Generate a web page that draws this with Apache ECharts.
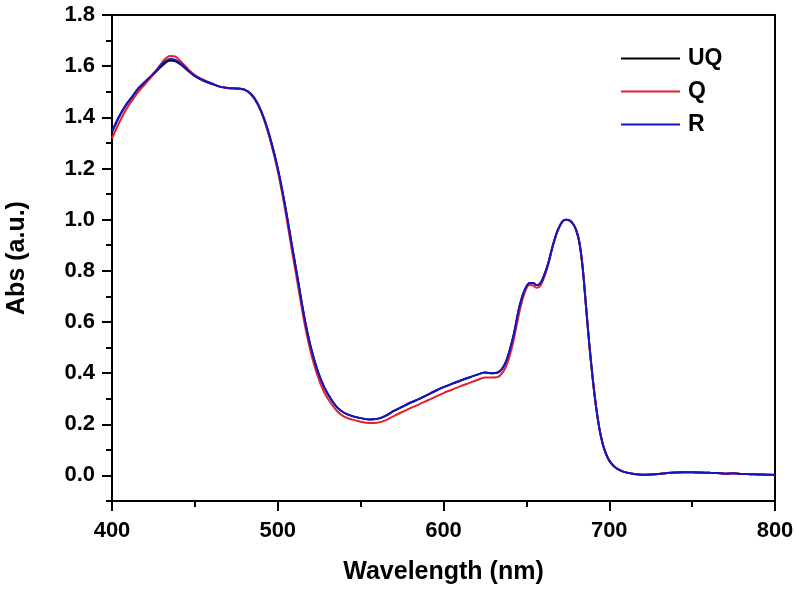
<!DOCTYPE html>
<html>
<head>
<meta charset="utf-8">
<script src="https://cdn.jsdelivr.net/npm/echarts@6/dist/echarts.min.js"></script>
<style>html,body{margin:0;padding:0;background:#fff}#c{width:796px;height:591px}</style>
</head>
<body>
<div id="c"></div>
<script>
const wavelength = [400,404,408,412,416,420,424,428,432,435,438,442,446,450,455,460,465,470,475,480,484,488,492,496,500,504,508,512,516,520,524,528,532,536,540,545,550,555,560,565,570,575,580,585,590,595,600,605,610,615,620,625,630,634,638,642,646,649,652,654,656,658,660,663,666,669,672,674,676,678,680,682,684,686,688,690,692,694,696,698,700,703,706,710,715,720,725,730,735,740,745,750,755,760,765,770,775,780,785,790,795,800];

const absR = [1.345,1.40,1.445,1.48,1.515,1.54,1.565,1.592,1.618,1.628,1.625,1.607,1.583,1.562,1.545,1.532,1.52,1.515,1.513,1.508,1.49,1.452,1.39,1.305,1.2,1.07,0.92,0.77,0.62,0.50,0.41,0.345,0.30,0.265,0.245,0.232,0.224,0.219,0.221,0.233,0.252,0.268,0.284,0.298,0.314,0.33,0.345,0.358,0.37,0.382,0.393,0.402,0.399,0.407,0.45,0.54,0.665,0.725,0.752,0.752,0.744,0.748,0.77,0.825,0.9,0.96,0.995,1.0,0.997,0.985,0.96,0.91,0.81,0.66,0.51,0.38,0.27,0.185,0.125,0.085,0.058,0.035,0.022,0.012,0.006,0.003,0.004,0.006,0.009,0.011,0.012,0.012,0.011,0.010,0.009,0.007,0.008,0.006,0.005,0.004,0.003,0.002];

const absQ = [1.318,1.375,1.425,1.465,1.50,1.53,1.56,1.595,1.628,1.64,1.638,1.615,1.588,1.565,1.547,1.533,1.52,1.515,1.512,1.507,1.488,1.45,1.385,1.298,1.19,1.055,0.90,0.75,0.60,0.48,0.39,0.325,0.283,0.25,0.23,0.218,0.21,0.205,0.206,0.215,0.232,0.248,0.263,0.277,0.292,0.307,0.322,0.335,0.348,0.36,0.372,0.383,0.383,0.39,0.43,0.52,0.645,0.715,0.745,0.742,0.734,0.738,0.762,0.82,0.897,0.958,0.994,1.0,0.997,0.985,0.96,0.91,0.81,0.66,0.51,0.38,0.27,0.185,0.125,0.085,0.058,0.035,0.022,0.012,0.006,0.003,0.004,0.006,0.009,0.011,0.012,0.012,0.011,0.010,0.009,0.007,0.008,0.006,0.005,0.004,0.003,0.002];

const absUQ = [1.342,1.398,1.443,1.478,1.512,1.537,1.562,1.588,1.612,1.622,1.62,1.604,1.581,1.561,1.544,1.531,1.52,1.515,1.513,1.508,1.49,1.452,1.39,1.305,1.2,1.07,0.92,0.77,0.62,0.50,0.41,0.345,0.30,0.265,0.245,0.232,0.224,0.219,0.221,0.233,0.252,0.268,0.284,0.298,0.314,0.33,0.345,0.358,0.37,0.382,0.393,0.402,0.399,0.407,0.45,0.54,0.665,0.725,0.752,0.752,0.744,0.748,0.77,0.825,0.9,0.96,0.995,1.0,0.997,0.985,0.96,0.91,0.81,0.66,0.51,0.38,0.27,0.185,0.125,0.085,0.058,0.035,0.022,0.012,0.006,0.003,0.004,0.006,0.009,0.011,0.012,0.012,0.011,0.010,0.009,0.007,0.008,0.006,0.005,0.004,0.003,0.002];

const seriesNames = ['UQ','Q','R'];
const majorYTicks = [0,0.2,0.4,0.6,0.8,1.0,1.2,1.4,1.6,1.8];
const minorYTicks = [-0.1,0.1,0.3,0.5,0.7,0.9,1.1,1.3,1.5,1.7];

const FONT = '"Liberation Sans", Arial, sans-serif';
const zip = (xs, ys) => xs.map((x, i) => [x, ys[i]]);
const colors = ['#000000', '#e3212b', '#1515c8'];
const datas = [absUQ, absQ, absR];

const chart = echarts.init(document.getElementById('c'), null, {renderer: 'canvas'});
chart.setOption({
  animation: false,
  backgroundColor: '#fff',
  grid: {left: 112, right: 21, top: 15, bottom: 90, containLabel: false, outerBoundsMode: 'none',
    show: true, borderColor: '#000', borderWidth: 2, backgroundColor: 'transparent'},
  legend: {
    orient: 'vertical', left: 621, top: 47, padding: 0, itemWidth: 59, itemHeight: 2, itemGap: 10, icon: 'rect',
    data: seriesNames,
    textStyle: {fontFamily: FONT, fontWeight: 'bold', fontSize: 23, color: '#000', lineHeight: 22, padding: [0,0,0,3]}
  },
  xAxis: {
    type: 'value', min: 400, max: 800, interval: 100,
    name: 'Wavelength (nm)', nameLocation: 'middle', nameGap: 59, nameMoveOverlap: false,
    nameTextStyle: {fontFamily: FONT, fontWeight: 'bold', fontSize: 25, color: '#000'},
    axisLine: {show: true, onZero: false, lineStyle: {color: '#000', width: 2}},
    axisTick: {show: true, inside: false, length: 10, lineStyle: {color: '#000', width: 2}},
    minorTick: {show: true, splitNumber: 2, length: 6, lineStyle: {color: '#000', width: 2}},
    axisLabel: {fontFamily: FONT, fontWeight: 'bold', fontSize: 22, color: '#000', margin: 19},
    splitLine: {show: false}, minorSplitLine: {show: false}
  },
  yAxis: [{
    type: 'value', min: -0.1, max: 1.8,
    name: 'Abs (a.u.)', nameLocation: 'middle', nameGap: 82, nameRotate: 90, nameMoveOverlap: false,
    nameTextStyle: {fontFamily: FONT, fontWeight: 'bold', fontSize: 25, color: '#000'},
    axisLine: {show: true, onZero: false, lineStyle: {color: '#000', width: 2}},
    axisTick: {show: true, inside: false, length: 10, customValues: majorYTicks, lineStyle: {color: '#000', width: 2}},
    axisLabel: {fontFamily: FONT, fontWeight: 'bold', fontSize: 22, color: '#000', margin: 17, customValues: majorYTicks,
      formatter: v => v.toFixed(1)},
    splitLine: {show: false}
  }, {
    type: 'value', min: -0.1, max: 1.8, position: 'left',
    axisLine: {show: false},
    axisTick: {show: true, inside: false, length: 6, customValues: minorYTicks, lineStyle: {color: '#000', width: 2}},
    axisLabel: {show: false},
    splitLine: {show: false}
  }],
  series: seriesNames.map((n, i) => ({
    name: n, type: 'line', data: zip(wavelength, datas[i]), showSymbol: false, smooth: 0.3,
    color: colors[i], lineStyle: {color: colors[i], width: 2}, yAxisIndex: 0
  }))
});
</script>
</body>
</html>
